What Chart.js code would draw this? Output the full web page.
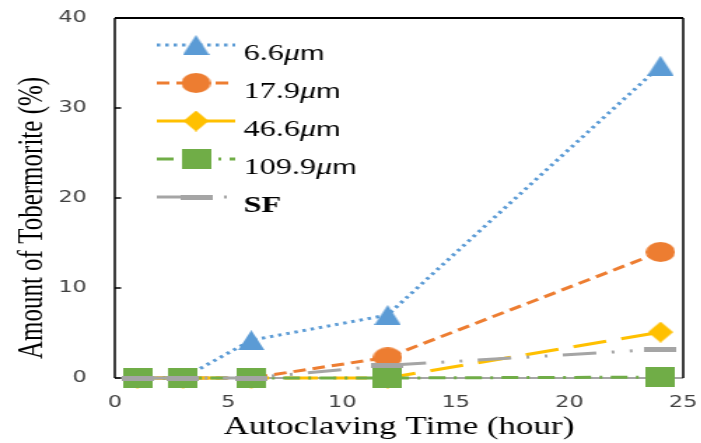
<!DOCTYPE html>
<html>
<head>
<meta charset="utf-8">
<script src="https://cdn.jsdelivr.net/npm/chart.js@4/dist/chart.umd.min.js"></script>
<style>
html, body { margin: 0; padding: 0; background: #fff; overflow: hidden; }
/* the original figure is stretched sideways, so draw narrow and stretch */
#wrap { width: 501px; height: 443px; transform: scaleX(1.4); transform-origin: 0 0; }
</style>
</head>
<body>
<div id="wrap"><canvas id="myChart"></canvas></div>
<script>
// Autoclaving times (hour)
var times = [1, 3, 6, 12, 24];

// Amount of tobermorite (%) per particle size
var size66 = [0, 0, 4.2, 7.0, 34.7];
var size179 = [0, 0, 0, 2.3, 14.0];
var size466 = [0, 0, 0, 0, 5.1];
var size1099 = [0, 0, 0, 0, 0.1];
var sizeSF = [0, 0, 0, 1.4, 3.2];

var seriesNames = ["6.6μm", "17.9μm", "46.6μm", "109.9μm", "SF"];

// Axis ticks
var xTicks = [0, 5, 10, 15, 20, 25];
var yTicks = [0, 10, 20, 30, 40];

// Builds a small marker picture used as point style
function makeMarker(shape, w, h, color)
{
    var c = document.createElement("canvas");
    c.width = w;
    c.height = h;
    var g = c.getContext("2d");
    g.fillStyle = color;
    g.beginPath();
    if (shape == "triangle") {
        g.moveTo(w / 2, 0); g.lineTo(w, h); g.lineTo(0, h);
    } else if (shape == "circle") {
        g.ellipse(w / 2, h / 2, w / 2, h / 2, 0, 0, Math.PI * 2);
    } else if (shape == "diamond") {
        g.moveTo(w / 2, 0); g.lineTo(w, h / 2); g.lineTo(w / 2, h); g.lineTo(0, h / 2);
    } else {
        g.rect(0, 0, w, h);
    }
    g.closePath();
    g.fill();
    return c;
}

function series(label, values, color, dash, marker, order)
{
    return {
        label: label,
        data: times.map(function(t, i) { return { x: t, y: values[i] }; }),
        borderColor: color,
        backgroundColor: color,
        borderWidth: 3,
        borderDash: dash,
        pointStyle: marker,
        pointRadius: 10,
        pointHoverRadius: 10,
        order: order,
        clip: false,
        tension: 0
    };
}

var datasets = [
    series(seriesNames[0], size66, "#5b9bd5", [2.5, 3.5], makeMarker("triangle", 19, 20, "#5b9bd5"), 4),
    series(seriesNames[1], size179, "#ed7d31", [9, 5], makeMarker("circle", 21, 20, "#ed7d31"), 3),
    series(seriesNames[2], size466, "#ffc000", [24, 11], makeMarker("diamond", 18, 21, "#ffc000"), 2),
    series(seriesNames[3], size1099, "#70ad47", [12, 6, 2, 6], makeMarker("square", 21, 20, "#70ad47"), 1),
    series(seriesNames[4], sizeSF, "#a5a5a5", [24, 11, 2, 11, 2, 11], makeMarker("dash", 23, 5, "#a5a5a5"), 0)
];

// Frame round the plot plus inward y ticks
var framePlugin = {
    id: "frame",
    beforeDatasetsDraw: function(chart) {
        var ctx = chart.ctx;
        var a = chart.chartArea;
        ctx.save();
        ctx.lineWidth = 2;
        ctx.strokeStyle = "#a6a6a6";
        ctx.beginPath();
        ctx.moveTo(a.left, a.bottom);
        ctx.lineTo(a.right, a.bottom);
        ctx.stroke();

        ctx.strokeStyle = "#000";
        ctx.beginPath();
        ctx.moveTo(a.left, a.top);
        ctx.lineTo(a.right, a.top);
        ctx.stroke();

        ctx.lineWidth = 1.5;
        ctx.beginPath();
        ctx.moveTo(a.left, a.bottom);
        ctx.lineTo(a.left, a.top);
        ctx.moveTo(a.right, a.top);
        ctx.lineTo(a.right, a.bottom);
        var ys = chart.scales.y;
        ys.ticks.forEach(function(t) {
            var py = ys.getPixelForValue(t.value);
            ctx.moveTo(a.left, py);
            ctx.lineTo(a.left + 4.5, py);
        });
        ctx.stroke();
        ctx.restore();
    }
};

// Legend inside the plot, plus axis titles
var legendPlugin = {
    id: "insideLegend",
    afterDraw: function(chart) {
        var ctx = chart.ctx;
        chart.data.datasets.forEach(function(ds, i) {
            var y = 45 + i * 38;
            ctx.save();
            ctx.strokeStyle = ds.borderColor;
            ctx.lineWidth = ds.borderWidth;
            ctx.setLineDash(ds.borderDash);
            ctx.beginPath();
            ctx.moveTo(112, y);
            ctx.lineTo(168, y);
            ctx.stroke();
            ctx.setLineDash([]);
            var m = ds.pointStyle;
            ctx.drawImage(m, 140 - m.width / 2, y - m.height / 2);

            ctx.fillStyle = "#000";
            ctx.textBaseline = "alphabetic";
            ctx.textAlign = "left";
            var x = 174;
            var label = ds.label;
            if (label.indexOf("μm") > 0) {
                var num = label.replace("μm", "");
                ctx.font = "23px 'Liberation Serif'";
                ctx.fillText(num, x, y + 15);
                x += ctx.measureText(num).width;
                ctx.font = "italic 23px 'Liberation Serif'";
                ctx.fillText("μ", x, y + 15);
                x += ctx.measureText("μ").width;
                ctx.font = "21px 'Liberation Sans'";
                ctx.fillText("m", x, y + 15);
            } else {
                ctx.font = "bold 23px 'Liberation Serif'";
                ctx.fillText(label, x, y + 15);
            }
            ctx.restore();
        });

        var a = chart.chartArea;
        ctx.save();
        ctx.fillStyle = "#000";
        ctx.font = "25px 'Liberation Serif'";
        ctx.textAlign = "center";
        ctx.textBaseline = "alphabetic";
        ctx.fillText("Autoclaving Time (hour)", (a.left + a.right) / 2, 434);
        ctx.translate(30, 218);
        ctx.rotate(-Math.PI / 2);
        ctx.fillText("Amount of Tobermorite (%)", 0, 0);
        ctx.restore();
    }
};

// Drop the extra room Chart.js keeps for overhanging tick labels
function noLabelPadding(scale)
{
    scale.paddingLeft = 0;
    scale.paddingRight = 0;
    scale.paddingTop = 0;
    scale.paddingBottom = 0;
}

var tickFont = { family: "'DejaVu Sans'", size: 16 };

var config = {
    type: "line",
    data: { datasets: datasets },
    options: {
        responsive: true,
        maintainAspectRatio: false,
        animation: false,
        layout: { padding: { left: 0, right: 11, top: 18, bottom: 0 } },
        plugins: { legend: { display: false }, tooltip: { enabled: false } },
        scales: {
            x: {
                type: "linear",
                min: 0,
                max: 25,
                afterBuildTicks: function(scale) {
                    scale.ticks = xTicks.map(function(v) { return { value: v }; });
                },
                afterFit: function(scale) { scale.height = 65; noLabelPadding(scale); },
                grid: { display: false, drawTicks: false },
                border: { display: false },
                ticks: { color: "#404040", font: tickFont, padding: 15, maxRotation: 0 }
            },
            y: {
                min: 0,
                max: 40,
                afterBuildTicks: function(scale) {
                    scale.ticks = yTicks.map(function(v) { return { value: v }; });
                },
                afterFit: function(scale) { scale.width = 82; noLabelPadding(scale); },
                grid: { display: false, drawTicks: false },
                border: { display: false },
                ticks: { color: "#404040", font: tickFont, padding: 20 }
            }
        }
    },
    plugins: [framePlugin, legendPlugin]
};

var chart = new Chart(document.getElementById("myChart").getContext("2d"), config);
</script>
</body>
</html>
